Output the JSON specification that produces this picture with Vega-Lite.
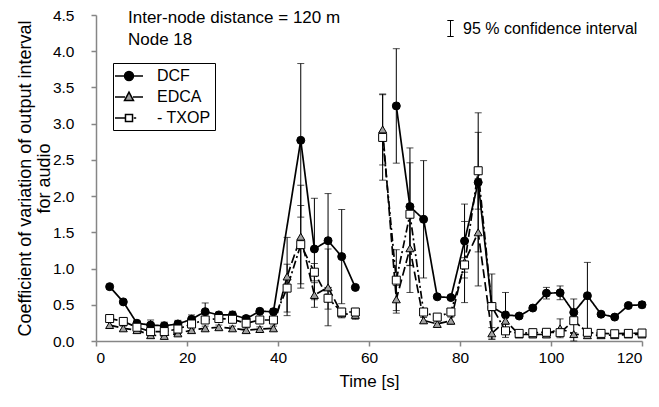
{
  "$schema": "https://vega.github.io/schema/vega-lite/v6.json",
  "width": 546,
  "height": 326,
  "autosize": {"type": "none"},
  "padding": {"left": 96, "top": 15, "right": 17, "bottom": 66},
  "background": "white",
  "config": {
    "view": {"stroke": null},
    "font": "Liberation Sans",
    "axis": {"labelFont": "Liberation Sans", "titleFont": "Liberation Sans", "labelFontSize": 15.5, "titleFontSize": 17, "titleFontWeight": "normal", "labelColor": "black", "titleColor": "black", "domainColor": "#868686", "tickColor": "#868686", "grid": false, "domainWidth": 1.5, "tickSize": 5, "tickWidth": 1.5, "labelOverlap": false},
    "legend": {"labelFont": "Liberation Sans", "labelFontSize": 16, "labelColor": "black", "labelLimit": 0}
  },
  "title": {"text": ["Inter-node distance = 120 m", "Node 18"], "anchor": "start", "frame": "group", "orient": "top", "offset": -41, "dx": 32, "baseline": "top", "fontSize": 17, "fontWeight": "normal", "font": "Liberation Sans", "color": "black", "lineHeight": 22},
  "resolve": {"scale": {"shape": "independent", "fill": "independent", "stroke": "independent"}},
  "data": {"values": [
    {"t":3,"s":"DCF","v":0.75,"lo":0.72,"hi":0.78,"g":1},
    {"t":6,"s":"DCF","v":0.54,"lo":0.52,"hi":0.56,"g":1},
    {"t":9,"s":"DCF","v":0.245,"lo":0.215,"hi":0.275,"g":1},
    {"t":12,"s":"DCF","v":0.22,"lo":0.15,"hi":0.29,"g":1},
    {"t":15,"s":"DCF","v":0.21,"lo":0.16,"hi":0.26,"g":1},
    {"t":18,"s":"DCF","v":0.235,"lo":0.185,"hi":0.285,"g":1},
    {"t":21,"s":"DCF","v":0.30,"lo":0.24,"hi":0.36,"g":1},
    {"t":24,"s":"DCF","v":0.405,"lo":0.285,"hi":0.525,"g":1},
    {"t":27,"s":"DCF","v":0.36,"lo":0.32,"hi":0.40,"g":1},
    {"t":30,"s":"DCF","v":0.36,"lo":0.31,"hi":0.41,"g":1},
    {"t":33,"s":"DCF","v":0.31,"lo":0.27,"hi":0.35,"g":1},
    {"t":36,"s":"DCF","v":0.41,"lo":0.38,"hi":0.44,"g":1},
    {"t":39,"s":"DCF","v":0.405,"lo":0.365,"hi":0.445,"g":1},
    {"t":45,"s":"DCF","v":2.77,"lo":1.71,"hi":3.83,"g":1},
    {"t":48,"s":"DCF","v":1.27,"lo":0.57,"hi":1.97,"g":1},
    {"t":51,"s":"DCF","v":1.385,"lo":0.735,"hi":2.035,"g":1},
    {"t":54,"s":"DCF","v":1.165,"lo":0.515,"hi":1.815,"g":1},
    {"t":57,"s":"DCF","v":0.74,"lo":0.72,"hi":0.76,"g":1},
    {"t":66,"s":"DCF","v":3.245,"lo":2.455,"hi":4.035,"g":2},
    {"t":69,"s":"DCF","v":1.855,"lo":1.045,"hi":2.665,"g":2},
    {"t":72,"s":"DCF","v":1.68,"lo":0.87,"hi":2.49,"g":2},
    {"t":75,"s":"DCF","v":0.61,"lo":0.59,"hi":0.63,"g":2},
    {"t":78,"s":"DCF","v":0.60,"lo":0.58,"hi":0.62,"g":2},
    {"t":81,"s":"DCF","v":1.38,"lo":0.87,"hi":1.89,"g":2},
    {"t":84,"s":"DCF","v":2.19,"lo":1.23,"hi":3.15,"g":2},
    {"t":87,"s":"DCF","v":0.47,"lo":0.44,"hi":0.50,"g":2},
    {"t":90,"s":"DCF","v":0.36,"lo":0.05,"hi":0.67,"g":2},
    {"t":93,"s":"DCF","v":0.345,"lo":0.325,"hi":0.365,"g":2},
    {"t":96,"s":"DCF","v":0.455,"lo":0.435,"hi":0.475,"g":2},
    {"t":99,"s":"DCF","v":0.66,"lo":0.58,"hi":0.74,"g":2},
    {"t":102,"s":"DCF","v":0.665,"lo":0.57,"hi":0.76,"g":2},
    {"t":105,"s":"DCF","v":0.395,"lo":0.365,"hi":0.425,"g":2},
    {"t":108,"s":"DCF","v":0.625,"lo":0.165,"hi":1.085,"g":2},
    {"t":111,"s":"DCF","v":0.37,"lo":0.35,"hi":0.39,"g":2},
    {"t":114,"s":"DCF","v":0.33,"lo":0.31,"hi":0.35,"g":2},
    {"t":117,"s":"DCF","v":0.49,"lo":0.46,"hi":0.52,"g":2},
    {"t":120,"s":"DCF","v":0.50,"lo":0.46,"hi":0.54,"g":2},
    {"t":3,"s":"EDCA","v":0.22,"lo":0.18,"hi":0.26,"g":1},
    {"t":6,"s":"EDCA","v":0.175,"lo":0.145,"hi":0.205,"g":1},
    {"t":9,"s":"EDCA","v":0.15,"lo":0.12,"hi":0.18,"g":1},
    {"t":12,"s":"EDCA","v":0.08,"lo":0.05,"hi":0.11,"g":1},
    {"t":15,"s":"EDCA","v":0.07,"lo":0.04,"hi":0.10,"g":1},
    {"t":18,"s":"EDCA","v":0.105,"lo":0.075,"hi":0.135,"g":1},
    {"t":21,"s":"EDCA","v":0.15,"lo":0.12,"hi":0.18,"g":1},
    {"t":24,"s":"EDCA","v":0.175,"lo":0.145,"hi":0.205,"g":1},
    {"t":27,"s":"EDCA","v":0.19,"lo":0.16,"hi":0.22,"g":1},
    {"t":30,"s":"EDCA","v":0.175,"lo":0.145,"hi":0.205,"g":1},
    {"t":33,"s":"EDCA","v":0.15,"lo":0.12,"hi":0.18,"g":1},
    {"t":36,"s":"EDCA","v":0.165,"lo":0.135,"hi":0.195,"g":1},
    {"t":39,"s":"EDCA","v":0.175,"lo":0.145,"hi":0.205,"g":1},
    {"t":42,"s":"EDCA","v":0.89,"lo":0.35,"hi":1.43,"g":1},
    {"t":45,"s":"EDCA","v":1.44,"lo":0.73,"hi":2.15,"g":1},
    {"t":48,"s":"EDCA","v":0.635,"lo":0.465,"hi":0.805,"g":1},
    {"t":51,"s":"EDCA","v":0.74,"lo":0.21,"hi":1.27,"g":1},
    {"t":54,"s":"EDCA","v":0.38,"lo":0.32,"hi":0.44,"g":1},
    {"t":57,"s":"EDCA","v":0.36,"lo":0.30,"hi":0.42,"g":1},
    {"t":63,"s":"EDCA","v":2.92,"lo":2.43,"hi":3.41,"g":2},
    {"t":66,"s":"EDCA","v":0.575,"lo":0.385,"hi":0.765,"g":2},
    {"t":69,"s":"EDCA","v":1.28,"lo":0.67,"hi":1.89,"g":2},
    {"t":72,"s":"EDCA","v":0.285,"lo":0.245,"hi":0.325,"g":2},
    {"t":75,"s":"EDCA","v":0.235,"lo":0.195,"hi":0.275,"g":2},
    {"t":78,"s":"EDCA","v":0.28,"lo":0.23,"hi":0.33,"g":2},
    {"t":81,"s":"EDCA","v":1.09,"lo":0.53,"hi":1.65,"g":2},
    {"t":84,"s":"EDCA","v":1.50,"lo":0.76,"hi":2.24,"g":2},
    {"t":87,"s":"EDCA","v":0.105,"lo":0.025,"hi":0.185,"g":2},
    {"t":90,"s":"EDCA","v":0.28,"lo":0.23,"hi":0.33,"g":2},
    {"t":93,"s":"EDCA","v":0.09,"lo":0.07,"hi":0.11,"g":2},
    {"t":96,"s":"EDCA","v":0.09,"lo":0.07,"hi":0.11,"g":2},
    {"t":99,"s":"EDCA","v":0.09,"lo":0.07,"hi":0.11,"g":2},
    {"t":102,"s":"EDCA","v":0.175,"lo":0.045,"hi":0.305,"g":2},
    {"t":105,"s":"EDCA","v":0.095,"lo":0.075,"hi":0.115,"g":2},
    {"t":108,"s":"EDCA","v":0.08,"lo":0.06,"hi":0.10,"g":2},
    {"t":111,"s":"EDCA","v":0.08,"lo":0.06,"hi":0.10,"g":2},
    {"t":114,"s":"EDCA","v":0.08,"lo":0.06,"hi":0.10,"g":2},
    {"t":117,"s":"EDCA","v":0.09,"lo":0.07,"hi":0.11,"g":2},
    {"t":120,"s":"EDCA","v":0.09,"lo":0.07,"hi":0.11,"g":2},
    {"t":3,"s":"TXOP","v":0.31,"lo":0.26,"hi":0.36,"g":1},
    {"t":6,"s":"TXOP","v":0.27,"lo":0.24,"hi":0.30,"g":1},
    {"t":9,"s":"TXOP","v":0.19,"lo":0.16,"hi":0.22,"g":1},
    {"t":12,"s":"TXOP","v":0.13,"lo":0.10,"hi":0.16,"g":1},
    {"t":15,"s":"TXOP","v":0.13,"lo":0.09,"hi":0.17,"g":1},
    {"t":18,"s":"TXOP","v":0.165,"lo":0.135,"hi":0.195,"g":1},
    {"t":21,"s":"TXOP","v":0.235,"lo":0.205,"hi":0.265,"g":1},
    {"t":24,"s":"TXOP","v":0.29,"lo":0.25,"hi":0.33,"g":1},
    {"t":27,"s":"TXOP","v":0.31,"lo":0.28,"hi":0.34,"g":1},
    {"t":30,"s":"TXOP","v":0.30,"lo":0.27,"hi":0.33,"g":1},
    {"t":33,"s":"TXOP","v":0.245,"lo":0.215,"hi":0.275,"g":1},
    {"t":36,"s":"TXOP","v":0.29,"lo":0.26,"hi":0.32,"g":1},
    {"t":39,"s":"TXOP","v":0.29,"lo":0.26,"hi":0.32,"g":1},
    {"t":42,"s":"TXOP","v":0.73,"lo":0.40,"hi":1.06,"g":1},
    {"t":45,"s":"TXOP","v":1.33,"lo":0.79,"hi":1.87,"g":1},
    {"t":48,"s":"TXOP","v":0.95,"lo":0.83,"hi":1.07,"g":1},
    {"t":51,"s":"TXOP","v":0.59,"lo":0.44,"hi":0.74,"g":1},
    {"t":54,"s":"TXOP","v":0.40,"lo":0.35,"hi":0.45,"g":1},
    {"t":57,"s":"TXOP","v":0.40,"lo":0.35,"hi":0.45,"g":1},
    {"t":63,"s":"TXOP","v":2.81,"lo":2.22,"hi":3.40,"g":2},
    {"t":66,"s":"TXOP","v":0.84,"lo":0.42,"hi":1.26,"g":2},
    {"t":69,"s":"TXOP","v":1.75,"lo":1.04,"hi":2.46,"g":2},
    {"t":72,"s":"TXOP","v":0.40,"lo":0.35,"hi":0.45,"g":2},
    {"t":75,"s":"TXOP","v":0.33,"lo":0.29,"hi":0.37,"g":2},
    {"t":78,"s":"TXOP","v":0.40,"lo":0.36,"hi":0.44,"g":2},
    {"t":81,"s":"TXOP","v":1.05,"lo":0.95,"hi":1.15,"g":2},
    {"t":84,"s":"TXOP","v":2.35,"lo":1.82,"hi":2.88,"g":2},
    {"t":87,"s":"TXOP","v":0.475,"lo":0.025,"hi":0.925,"g":2},
    {"t":90,"s":"TXOP","v":0.14,"lo":0.12,"hi":0.16,"g":2},
    {"t":93,"s":"TXOP","v":0.105,"lo":0.085,"hi":0.125,"g":2},
    {"t":96,"s":"TXOP","v":0.115,"lo":0.095,"hi":0.135,"g":2},
    {"t":99,"s":"TXOP","v":0.12,"lo":0.10,"hi":0.14,"g":2},
    {"t":102,"s":"TXOP","v":0.115,"lo":0.095,"hi":0.135,"g":2},
    {"t":105,"s":"TXOP","v":0.28,"lo":0.0,"hi":0.58,"g":2},
    {"t":108,"s":"TXOP","v":0.12,"lo":0.10,"hi":0.14,"g":2},
    {"t":111,"s":"TXOP","v":0.105,"lo":0.085,"hi":0.125,"g":2},
    {"t":114,"s":"TXOP","v":0.10,"lo":0.08,"hi":0.12,"g":2},
    {"t":117,"s":"TXOP","v":0.105,"lo":0.085,"hi":0.125,"g":2},
    {"t":120,"s":"TXOP","v":0.11,"lo":0.09,"hi":0.13,"g":2}
  ]},
  "encoding": {
    "x": {"field": "t", "type": "quantitative", "scale": {"domain": [0, 120], "nice": false}, "axis": {"values": [0, 20, 40, 60, 80, 100, 120], "title": "Time [s]", "titlePadding": 8, "labelPadding": 4, "labelOverlap": false}}
  },
  "layer": [
    {
      "mark": {"type": "rule", "strokeWidth": 1},
      "encoding": {
        "y": {"field": "lo", "type": "quantitative", "scale": {"domain": [0, 4.5], "nice": false}, "axis": {"values": [0, 0.5, 1, 1.5, 2, 2.5, 3, 3.5, 4, 4.5], "tickCount": 10, "format": ".1f", "labelOverlap": false, "title": ["Coefficient of variation of output interval", "for audio"], "titleFontSize": 18, "titlePadding": -1, "labelPadding": 17, "titleLineHeight": 19}},
        "y2": {"field": "hi"},
        "color": {"datum": "95 % confidence interval", "type": "nominal", "scale": {"range": ["black"]}, "legend": {"title": null, "orient": "none", "legendX": 346, "legendY": 5, "symbolType": "M-0.4,-1L0.4,-1M0,-1L0,1M-0.4,1L0.4,1", "symbolSize": 256, "symbolStrokeColor": "black", "symbolFillColor": "transparent", "symbolStrokeWidth": 1, "labelOffset": 4, "padding": 0}}
      }
    },
    {
      "mark": {"type": "tick", "orient": "horizontal", "size": 7, "thickness": 1, "color": "black"},
      "encoding": {"y": {"field": "hi", "type": "quantitative", "axis": {"values": [0, 0.5, 1, 1.5, 2, 2.5, 3, 3.5, 4, 4.5], "tickCount": 10, "format": ".1f", "labelOverlap": false, "labelPadding": 17}}}
    },
    {
      "mark": {"type": "tick", "orient": "horizontal", "size": 7, "thickness": 1, "color": "black"},
      "encoding": {"y": {"field": "lo", "type": "quantitative", "axis": {"values": [0, 0.5, 1, 1.5, 2, 2.5, 3, 3.5, 4, 4.5], "tickCount": 10, "format": ".1f", "labelOverlap": false, "labelPadding": 17}}}
    },
    {
      "mark": {"type": "line", "color": "black", "strokeWidth": 1.7},
      "encoding": {
        "y": {"field": "v", "type": "quantitative", "axis": {"values": [0, 0.5, 1, 1.5, 2, 2.5, 3, 3.5, 4, 4.5], "tickCount": 10, "format": ".1f", "labelOverlap": false, "labelPadding": 17}},
        "detail": {"field": "g", "type": "nominal"},
        "strokeDash": {"field": "s", "type": "nominal", "scale": {"domain": ["TXOP", "EDCA", "DCF"], "range": [[8, 3, 2, 3], [9, 4], [1, 0]]}, "legend": null}
      }
    },
    {
      "mark": {"type": "point", "filled": true, "stroke": "black", "strokeWidth": 1, "size": 64, "opacity": 1},
      "encoding": {
        "y": {"field": "v", "type": "quantitative", "axis": {"values": [0, 0.5, 1, 1.5, 2, 2.5, 3, 3.5, 4, 4.5], "tickCount": 10, "format": ".1f", "labelOverlap": false, "labelPadding": 17}},
        "shape": {"field": "s", "type": "nominal", "scale": {"domain": ["DCF", "EDCA", "TXOP"], "range": ["circle", "triangle-up", "square"]}, "legend": null},
        "fill": {"field": "s", "type": "nominal", "scale": {"domain": ["DCF", "EDCA", "TXOP"], "range": ["black", "#a0a0a0", "white"]}, "legend": null}
      }
    },
    {
      "transform": [{"filter": "false"}],
      "mark": {"type": "point", "filled": true, "strokeWidth": 1.5, "opacity": 1},
      "encoding": {
        "y": {"field": "v", "type": "quantitative", "axis": {"values": [0, 0.5, 1, 1.5, 2, 2.5, 3, 3.5, 4, 4.5], "tickCount": 10, "format": ".1f", "labelOverlap": false, "labelPadding": 17}},
        "shape": {"field": "s", "type": "nominal", "scale": {"domain": ["DCF", "EDCA", "TXOP"], "range": ["M-1.75,0L-0.56,0M0.56,0L1.75,0M0.56,0A0.56,0.56,0,1,1,-0.56,0A0.56,0.56,0,1,1,0.56,0Z", "M-1.75,0L-0.5,0M0.5,0L1.75,0M0,-0.6L0.56,0.45L-0.56,0.45Z", "M-1.75,0L-0.44,0M0.6,0L0.9,0M-0.44,-0.44L0.44,-0.44L0.44,0.44L-0.44,0.44Z"]}, "legend": {"title": null, "orient": "none", "legendX": 17, "legendY": 48, "symbolSize": 256, "symbolOffset": 3, "symbolStrokeWidth": 1.5, "labelOffset": 19, "padding": 4, "rowPadding": 4, "strokeColor": "black", "fillColor": "white", "labelExpr": "datum.label == 'TXOP' ? '- TXOP' : datum.label"}},
        "fill": {"field": "s", "type": "nominal", "scale": {"domain": ["DCF", "EDCA", "TXOP"], "range": ["black", "#a0a0a0", "white"]}, "legend": {"title": null, "orient": "none", "legendX": 17, "legendY": 48, "symbolSize": 256, "symbolOffset": 3, "symbolStrokeWidth": 1.5, "labelOffset": 19, "padding": 4, "rowPadding": 4, "strokeColor": "black", "fillColor": "white", "labelExpr": "datum.label == 'TXOP' ? '- TXOP' : datum.label"}},
        "stroke": {"field": "s", "type": "nominal", "scale": {"domain": ["DCF", "EDCA", "TXOP"], "range": ["black", "black", "black"]}, "legend": {"title": null, "orient": "none", "legendX": 17, "legendY": 48, "symbolSize": 256, "symbolOffset": 3, "symbolStrokeWidth": 1.5, "labelOffset": 19, "padding": 4, "rowPadding": 4, "strokeColor": "black", "fillColor": "white", "labelExpr": "datum.label == 'TXOP' ? '- TXOP' : datum.label"}}
      }
    }
  ]
}
